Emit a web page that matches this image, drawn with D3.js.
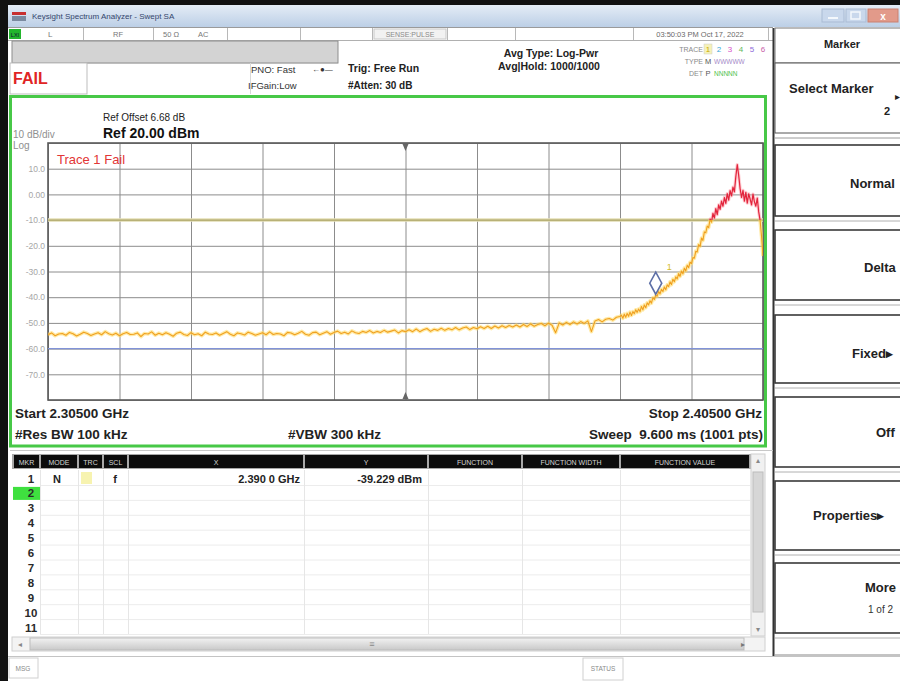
<!DOCTYPE html>
<html><head><meta charset="utf-8">
<script src="https://cdn.jsdelivr.net/npm/d3@7"></script>
<style>
html,body{margin:0;padding:0;background:#fff;}
svg{display:block;font-family:"Liberation Sans",Arial,sans-serif;}
</style></head><body>
<svg id="scr" width="900" height="681"></svg>
<script>
// ---- Sweep settings ----
const startGHz = 2.305;
const stopGHz = 2.405;
const refLevelDbm = 20;
const dbPerDiv = 10;
const divisions = 10;
const yTickValues = [10, 0, -10, -20, -30, -40, -50, -60, -70];
const yTickLabels = ["10.0", "0.00", "-10.0", "-20.0", "-30.0", "-40.0", "-50.0", "-60.0", "-70.0"];
const limitDbm = -10;
const displayLineDbm = -60;

// ---- Trace 1 (average), noise floor part: 2.305 GHz onward, 0.5 MHz per point ----
const floorStepMHz = 0.5;
const floorLevels = [
  -54.6,-53.9,-55.0,-54.3,-54.1,-54.8,-53.7,-54.2,-55.1,-54.4,-53.6,-54.1,-54.9,-54.3,-53.8,-54.6,-53.4,-54.2,-54.7,-54.0,
  -55.0,-54.2,-53.7,-54.5,-54.4,-53.9,-55.3,-54.1,-54.3,-53.5,-54.8,-54.0,-54.6,-53.8,-54.4,-55.2,-54.0,-53.6,-54.5,-54.9,
  -53.8,-54.6,-54.2,-55.0,-53.6,-54.3,-54.5,-53.9,-54.8,-54.1,-53.4,-54.4,-55.0,-53.9,-54.2,-54.7,-53.6,-54.1,-54.8,-54.3,
  -53.8,-54.6,-53.5,-54.5,-54.1,-54.3,-55.0,-53.7,-53.9,-54.6,-54.0,-53.3,-54.4,-54.8,-53.8,-53.6,-54.6,-54.0,-53.4,-54.4,
  -53.7,-53.2,-54.1,-53.6,-54.3,-53.1,-53.8,-54.1,-53.3,-53.7,-53.0,-53.9,-53.3,-53.7,-52.9,-53.6,-53.2,-52.8,-53.9,-53.0,
  -53.4,-52.7,-53.4,-52.4,-53.4,-52.7,-52.2,-53.3,-52.5,-52.9,-52.1,-52.9,-52.2,-52.7,-51.8,-52.7,-52.0,-51.6,-52.6,-51.8,
  -52.3,-51.5,-52.2,-51.3,-52.2,-51.2,-52.0,-51.1,-51.8,-51.0,-51.6,-50.8,-51.6,-50.6,-51.4,-50.4,-51.3,-50.6,-50.2,-51.1,
  -50.1,-50.9,-53.8,-50.0,-50.8,-49.8,-50.6,-49.6,-50.4,-49.5,-50.2,-49.2,-53.4,-49.3,-48.7,-49.6,-48.6,-48.3,-48.9,-47.8,
  -47.5
];

// ---- Trace 1, band-edge skirt: from 80.2 MHz above start, 0.2 MHz per point ----
const skirtStartMHz = 80.2;
const skirtStepMHz = 0.2;
const skirtLevels = [
  -47.0,-48.2,-46.6,-47.8,-46.3,-47.4,-45.8,-47.1,-45.6,-46.4,
  -44.9,-45.9,-44.6,-45.6,-43.6,-44.9,-43.0,-44.1,-42.2,-43.0,
  -41.4,-42.3,-40.2,-40.9,-39.229,-39.6,-37.8,-38.7,-36.9,-37.8,
  -36.0,-37.1,-35.2,-35.9,-34.0,-35.1,-33.0,-34.0,-32.1,-32.9,
  -30.8,-31.9,-29.8,-30.9,-28.7,-29.8,-27.6,-28.5,-26.4,-26.9,
  -24.6,-24.8,-22.1,-22.4,-19.5,-20.2,-17.0,-17.9,-14.6,-14.9,
  -12.3,-12.9,-9.6,-10.8,-7.4,-9.2,-5.5,-7.9,-4.1,-5.8,
  -2.6,-4.6,-1.2,-3.5,0.3,-2.2,1.5,-0.6,2.8,1.0,
  6.9,11.6,7.4,2.2,-1.2,1.6,-2.6,0.8,-3.4,0.2,
  -1.8,-4.1,0.1,-2.9,-4.6,-1.4,-6.8,-10.2,-16.5,-24.0
];

// ---- Marker table ----
const markerIds = ["1"];
const markerModes = ["N"];
const markerScales = ["f"];
const markerFreqGHz = [2.3900];
const markerLevelDbm = [-39.229];
const markerXText = ["2.390 0 GHz"];
const markerYText = ["-39.229 dBm"];
const tableHeaders = ["MKR", "MODE", "TRC", "SCL", "X", "Y", "FUNCTION", "FUNCTION WIDTH", "FUNCTION VALUE"];
const rowNumbers = ["1","2","3","4","5","6","7","8","9","10","11"];

// ---- Soft keys ----
const softKeys = ["Normal", "Delta", "Fixed\u25b8", "Off", "Properties\u25b8", "More"];

const FONT = '"Liberation Sans",Arial,sans-serif';
const svg = d3.select("#scr");
const defs = svg.append("defs");

function txt(parent, x, y, s, o = {}) {
  const t = parent.append("text").attr("x", x).attr("y", y).text(s)
    .attr("font-size", o.size || 11).attr("fill", o.fill || "#222");
  if (o.weight) t.attr("font-weight", o.weight);
  if (o.anchor) t.attr("text-anchor", o.anchor);
  if (o.ls) t.attr("letter-spacing", o.ls);
  return t;
}
function rect(parent, x, y, w, h, fill, stroke, sw) {
  return parent.append("rect").attr("x", x).attr("y", y).attr("width", w).attr("height", h)
    .attr("fill", fill || "none").attr("stroke", stroke || "none").attr("stroke-width", sw || 1);
}
function hline(parent, x1, x2, y, stroke, sw) {
  return parent.append("line").attr("x1", x1).attr("x2", x2).attr("y1", y).attr("y2", y)
    .attr("stroke", stroke).attr("stroke-width", sw || 1);
}
function vline(parent, x, y1, y2, stroke, sw) {
  return parent.append("line").attr("x1", x).attr("x2", x).attr("y1", y1).attr("y2", y2)
    .attr("stroke", stroke).attr("stroke-width", sw || 1);
}

// ---- Window frame ----
rect(svg, 0, 0, 900, 681, "#ffffff");
rect(svg, 0, 0, 900, 5, "#111");
rect(svg, 0, 0, 8, 681, "#111");

const tg = defs.append("linearGradient").attr("id", "titleGrad").attr("x1", 0).attr("x2", 0).attr("y1", 0).attr("y2", 1);
tg.append("stop").attr("offset", "0%").attr("stop-color", "#e4ecf6");
tg.append("stop").attr("offset", "100%").attr("stop-color", "#bccfe6");
rect(svg, 8, 5, 892, 22, "url(#titleGrad)");
rect(svg, 12, 12, 14, 3, "#c83030");
rect(svg, 12, 16, 14, 5, "#7a8aa0");
txt(svg, 32, 19, "Keysight Spectrum Analyzer - Swept SA", { size: 8, fill: "#34466c" });
// window buttons
rect(svg, 822, 9, 22, 13, "#c9d8ec", "#a9bbd4", 1);
rect(svg, 846, 9, 20, 13, "#c9d8ec", "#a9bbd4", 1);
rect(svg, 868, 9, 30, 13, "#e29a8a", "#c98070", 1);
hline(svg, 828, 838, 18, "#f4f8fc", 2);
rect(svg, 851, 12, 9, 7, "none", "#f4f8fc", 1.5);
txt(svg, 883, 20, "x", { size: 10, fill: "#fff", anchor: "middle", weight: "bold" });

// ---- Status row ----
hline(svg, 8, 773, 27.5, "#9a9a9a");
hline(svg, 8, 773, 40.5, "#b0b0b0");
rect(svg, 9, 29, 12, 10, "#22b52c");
txt(svg, 15, 37, "LXI", { size: 5.5, fill: "#113", anchor: "middle" });
[83, 153, 227, 300, 372, 447, 515, 633, 768].forEach(xx => vline(svg, xx + 0.5, 28, 40, "#b8b8b8"));
txt(svg, 48, 37, "L", { size: 8, fill: "#777" });
txt(svg, 113, 37, "RF", { size: 7.5, fill: "#777" });
txt(svg, 163, 37, "50 \u03a9", { size: 7.5, fill: "#777" });
txt(svg, 198, 37, "AC", { size: 7.5, fill: "#777" });
rect(svg, 374, 29, 72, 10, "#f2f2f2", "#c8c8c8", 1);
txt(svg, 410, 37, "SENSE:PULSE", { size: 7, fill: "#8a8a8a", anchor: "middle" });
txt(svg, 700, 37, "03:50:03 PM Oct 17, 2022", { size: 7.5, fill: "#6a6a6a", anchor: "middle" });

// ---- Settings area ----
rect(svg, 12, 41, 326, 22, "#d3d3d3", "#8d8d8d", 1);
rect(svg, 10, 63, 77, 31, "#fff", "#bdbdbd", 1);
hline(svg, 87, 338, 63.5, "#bdbdbd");
vline(svg, 250.5, 63, 94, "#d8d8d8");
txt(svg, 13, 84, "FAIL", { size: 16, fill: "#e02424", weight: "bold" });
txt(svg, 251, 73, "PNO: Fast", { size: 9.5, fill: "#333" });
txt(svg, 312, 72, "\u2190\u25cf\u2014", { size: 8, fill: "#333" });
txt(svg, 248, 89, "IFGain:Low", { size: 9.5, fill: "#333" });
txt(svg, 348, 72, "Trig: Free Run", { size: 10.5, fill: "#222", weight: "bold" });
txt(svg, 348, 89, "#Atten: 30 dB", { size: 10, fill: "#222", weight: "bold" });
txt(svg, 551, 57, "Avg Type: Log-Pwr", { size: 10.5, fill: "#222", weight: "bold", anchor: "middle" });
txt(svg, 549, 70, "Avg|Hold: 1000/1000", { size: 10.5, fill: "#222", weight: "bold", anchor: "middle" });

// trace status block
txt(svg, 703, 52, "TRACE", { size: 7, fill: "#8a8a8a", anchor: "end" });
txt(svg, 703, 64, "TYPE", { size: 7, fill: "#8a8a8a", anchor: "end" });
txt(svg, 703, 76, "DET", { size: 7, fill: "#8a8a8a", anchor: "end" });
rect(svg, 704, 44, 8, 10, "#f6f2b8", "#ccc", 0.5);
const traceDigitColors = ["#c9a800", "#3aa7d8", "#d850c8", "#5cb85c", "#8c6ad8", "#c860a8"];
traceDigitColors.forEach((c, i) => txt(svg, 708 + i * 11, 52, String(i + 1), { size: 8, fill: c, anchor: "middle" }));
txt(svg, 708, 64, "M", { size: 7.5, fill: "#555", anchor: "middle" });
txt(svg, 714, 64, "WWWWW", { size: 6.5, fill: "#a58ac8" });
txt(svg, 708, 76, "P", { size: 7.5, fill: "#555", anchor: "middle" });
txt(svg, 714, 76, "NNNNN", { size: 6.5, fill: "#4cc24c" });

// ---- Right soft-key panel ----
vline(svg, 773.5, 28, 656, "#333", 2);
rect(svg, 775, 28, 130, 35, "#fff", "#777", 1);
txt(svg, 842, 48, "Marker", { size: 11, fill: "#222", weight: "bold", anchor: "middle" });
rect(svg, 775, 63, 130, 70, "#fff", "#555", 1);
hline(svg, 775, 900, 138, "#9a9a9a");
txt(svg, 789, 93, "Select Marker", { size: 13, fill: "#222", weight: "bold" });
txt(svg, 895, 100, "\u25b8", { size: 10, fill: "#222" });
txt(svg, 887, 115, "2", { size: 11, fill: "#222", weight: "bold", anchor: "middle" });
const keyTops = [145, 230, 315, 397, 481, 563];
const keyBottoms = [216, 300, 383, 467, 550, 633];
const keyTextX = [850, 864, 852, 876, 813, 865];
const keyTextY = [188, 272, 358, 437, 520, 592];
softKeys.forEach((k, i) => {
  rect(svg, 775, keyTops[i], 130, keyBottoms[i] - keyTops[i], "#fff", "#3a3a3a", 1.6);
  hline(svg, 775, 900, keyBottoms[i] + 5, "#b0b0b0");
  txt(svg, keyTextX[i], keyTextY[i], k, { size: 13, fill: "#222", weight: "bold" });
});
txt(svg, 868, 613, "1 of 2", { size: 10, fill: "#333" });
hline(svg, 775, 900, 655, "#888");

// ---- Measurement window (green frame) ----
rect(svg, 10.5, 96.5, 755, 349.5, "#fff", "#47c847", 3);

// ---- Plot geometry via scales ----
const x = d3.scaleLinear().domain([startGHz, stopGHz]).range([48, 763]);
const y = d3.scaleLinear().domain([refLevelDbm - dbPerDiv * divisions, refLevelDbm]).range([400, 143]);
const plotW = x.range()[1] - x.range()[0];
const plotH = y.range()[0] - y.range()[1];
const xDivs = d3.range(divisions + 1).map(i => startGHz + i * (stopGHz - startGHz) / divisions);
const yDivs = d3.range(divisions + 1).map(i => refLevelDbm - i * dbPerDiv);

txt(svg, 103, 121, "Ref Offset 6.68 dB", { size: 10, fill: "#222" });
txt(svg, 103, 138, "Ref 20.00 dBm", { size: 14, fill: "#111", weight: "bold" });
txt(svg, 13, 138, "10 dB/div", { size: 10, fill: "#8f8f8f" });
txt(svg, 13, 149, "Log", { size: 10, fill: "#8f8f8f" });

// grid
const gridY = svg.append("g").attr("transform", `translate(${x.range()[0]},0)`)
  .call(d3.axisLeft(y).tickValues(yDivs).tickSize(-plotW).tickFormat(""));
gridY.select(".domain").remove();
gridY.selectAll(".tick line").attr("stroke", "#8c8c8c").attr("stroke-width", 1);
const gridX = svg.append("g").attr("transform", `translate(0,${y.range()[0]})`)
  .call(d3.axisBottom(x).tickValues(xDivs).tickSize(-plotH).tickFormat(""));
gridX.select(".domain").remove();
gridX.selectAll(".tick line").attr("stroke", "#8c8c8c").attr("stroke-width", 1);

// y labels
const yAx = svg.append("g").attr("transform", "translate(45,0)")
  .call(d3.axisLeft(y).tickValues(yTickValues).tickSize(0).tickPadding(0)
    .tickFormat((d, i) => yTickLabels[i]));
yAx.select(".domain").remove();
yAx.selectAll("text").attr("font-family", FONT).attr("font-size", 8.5).attr("fill", "#a6a6a6");

// plot border
rect(svg, x.range()[0], y.range()[1], plotW, plotH, "none", "#5a5a5a", 1.6);

// centre markers on the graticule
const xc = x((startGHz + stopGHz) / 2);
svg.append("path").attr("d", `M${xc - 3},${y.range()[1] + 1} L${xc + 3},${y.range()[1] + 1} L${xc},${y.range()[1] + 8} Z`).attr("fill", "#666");
svg.append("path").attr("d", `M${xc - 3},${y.range()[0] - 1} L${xc + 3},${y.range()[0] - 1} L${xc},${y.range()[0] - 8} Z`).attr("fill", "#666");

// display line and limit line
hline(svg, x.range()[0], x.range()[1], y(displayLineDbm), "#8193d8", 1.3);
hline(svg, x.range()[0], x.range()[1], y(limitDbm), "#e4dfb6", 3.5);
hline(svg, x.range()[0], x.range()[1], y(limitDbm), "#aaa262", 1.4);

txt(svg, 57, 164, "Trace 1 Fail", { size: 13, fill: "#e23636" });

// trace points on the sweep grid
const tracePts = floorLevels.map((v, i) => ({ f: startGHz + i * floorStepMHz / 1000, v }))
  .concat(skirtLevels.map((v, i) => ({ f: startGHz + (skirtStartMHz + i * skirtStepMHz) / 1000, v })));
const line = d3.line().x(d => x(d.f)).y(d => y(d.v));

defs.append("clipPath").attr("id", "failClip").append("rect")
  .attr("x", x.range()[0]).attr("y", y.range()[1]).attr("width", plotW).attr("height", y(limitDbm) - y.range()[1]);
defs.append("clipPath").attr("id", "passClip").append("rect")
  .attr("x", x.range()[0]).attr("y", y(limitDbm)).attr("width", plotW).attr("height", y.range()[0] - y(limitDbm));

const passG = svg.append("g").attr("clip-path", "url(#passClip)");
passG.append("path").datum(tracePts).attr("d", line).attr("fill", "none")
  .attr("stroke", "#ffdc6a").attr("stroke-width", 3.6).attr("stroke-opacity", 0.6).attr("stroke-linejoin", "round");
passG.append("path").datum(tracePts).attr("d", line).attr("fill", "none")
  .attr("stroke", "#f0a020").attr("stroke-width", 1.1).attr("stroke-linejoin", "round");
const failG = svg.append("g").attr("clip-path", "url(#failClip)");
failG.append("path").datum(tracePts).attr("d", line).attr("fill", "none")
  .attr("stroke", "#ff9aa4").attr("stroke-width", 3.2).attr("stroke-opacity", 0.5).attr("stroke-linejoin", "round");
failG.append("path").datum(tracePts).attr("d", line).attr("fill", "none")
  .attr("stroke", "#e2243c").attr("stroke-width", 1.2).attr("stroke-linejoin", "round");

// markers
markerIds.forEach((id, i) => {
  const mx = x(markerFreqGHz[i]), my = y(markerLevelDbm[i]);
  svg.append("path").attr("d", `M${mx},${my - 1} L${mx + 6},${my - 12} L${mx},${my - 23} L${mx - 6},${my - 12} Z`)
    .attr("fill", "none").attr("stroke", "#5d6fa6").attr("stroke-width", 1.6);
  txt(svg, mx + 11, my - 25, id, { size: 9, fill: "#d4bc2a" });
});

// footer of the measurement window
txt(svg, 15, 418, "Start 2.30500 GHz", { size: 13.5, fill: "#222", weight: "bold" });
txt(svg, 15, 439, "#Res BW 100 kHz", { size: 13.5, fill: "#222", weight: "bold" });
txt(svg, 288, 439, "#VBW 300 kHz", { size: 13.5, fill: "#222", weight: "bold" });
txt(svg, 762, 418, "Stop 2.40500 GHz", { size: 13.5, fill: "#222", weight: "bold", anchor: "end" });
txt(svg, 763, 439, "Sweep\u00a0\u00a09.600 ms (1001 pts)", { size: 13.5, fill: "#222", weight: "bold", anchor: "end" });

// ---- Marker table ----
hline(svg, 10, 773, 450.5, "#c8c8c8");
rect(svg, 12, 454, 739, 15, "#a8a8a8");
const colEdges = [13, 40, 78, 103, 128, 304, 428, 522, 620, 750];
tableHeaders.forEach((h, i) => {
  const x0 = colEdges[i] + 1, x1 = colEdges[i + 1] - 1;
  rect(svg, x0, 455, x1 - x0, 13, "#0c0c0c");
  txt(svg, (x0 + x1) / 2, 464.5, h, { size: 7, fill: "#d4d4d4", anchor: "middle" });
});
rect(svg, 751, 454, 14, 182, "#f1f1f1", "#cfcfcf", 1);
rect(svg, 753, 472, 10, 140, "#d6d6d6", "#bcbcbc", 1);
txt(svg, 758, 463, "\u25b4", { size: 8, fill: "#888", anchor: "middle" });
txt(svg, 758, 632, "\u25be", { size: 8, fill: "#888", anchor: "middle" });

const rowY = rowNumbers.map((r, i) => 478 + i * 14.9);
rowY.forEach(ry => hline(svg, 40, 750, ry + 7.5, "#ececec"));
colEdges.slice(1, -1).forEach(cx => vline(svg, cx + 0.5, 470, 634, "#e6e6e6"));
rect(svg, 13, rowY[1] - 6, 27, 13, "#3fe03f");
rect(svg, 81, rowY[0] - 6, 11, 12, "#f7f3b0");
rowNumbers.forEach((r, i) => txt(svg, 31, rowY[i] + 4.5, r, { size: 11.5, fill: "#2a2a2a", weight: "bold", anchor: "middle" }));
markerIds.forEach((id, i) => {
  txt(svg, 57, rowY[i] + 4.5, markerModes[i], { size: 11, fill: "#222", weight: "bold", anchor: "middle" });
  txt(svg, 115, rowY[i] + 4.5, markerScales[i], { size: 11, fill: "#222", weight: "bold", anchor: "middle" });
  txt(svg, 300, rowY[i] + 4.5, markerXText[i], { size: 11, fill: "#222", weight: "bold", anchor: "end" });
  txt(svg, 422, rowY[i] + 4.5, markerYText[i], { size: 11, fill: "#222", weight: "bold", anchor: "end" });
});

// horizontal scrollbar
const sg = defs.append("linearGradient").attr("id", "scrollGrad").attr("x1", 0).attr("x2", 0).attr("y1", 0).attr("y2", 1);
sg.append("stop").attr("offset", "0%").attr("stop-color", "#f2f2f2");
sg.append("stop").attr("offset", "100%").attr("stop-color", "#c9c9c9");
rect(svg, 12, 637, 753, 14, "#f3f3f3", "#d0d0d0", 1);
rect(svg, 30, 638, 714, 12, "url(#scrollGrad)", "#bdbdbd", 1);
txt(svg, 20, 647, "\u25c2", { size: 8, fill: "#888", anchor: "middle" });
txt(svg, 743, 647, "\u25b8", { size: 8, fill: "#777", anchor: "middle" });
txt(svg, 372, 647, "\u2261", { size: 9, fill: "#888", anchor: "middle" });

// ---- Bottom status bar ----
hline(svg, 8, 900, 656.5, "#c4c4c4");
rect(svg, 9, 658, 29, 20, "#fff", "#d0d0d0", 1);
txt(svg, 23, 671, "MSG", { size: 6.5, fill: "#8a8a8a", anchor: "middle" });
rect(svg, 583, 658, 40, 22, "#fff", "#d0d0d0", 1);
txt(svg, 603, 671, "STATUS", { size: 6.5, fill: "#8a8a8a", anchor: "middle" });
</script></body></html>
